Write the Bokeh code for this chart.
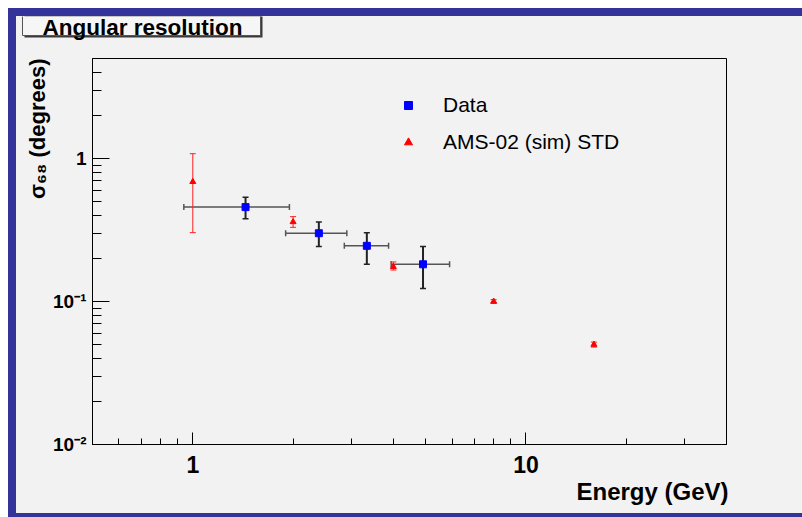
from bokeh.plotting import figure
from bokeh.models import (ColumnDataSource, Whisker, TeeHead, Legend, LegendItem, FixedTicker,
                          Title)
from bokeh.core.properties import value
from bokeh.layouts import column
from bokeh.embed import file_html
from bokeh.resources import INLINE

# ---- data ----
data_energy = [1.44, 2.39, 3.33, 4.91]
data_energy_lo = [0.94, 1.90, 2.85, 3.94]
data_energy_hi = [1.95, 2.90, 3.87, 5.90]
data_sigma = [0.457, 0.300, 0.245, 0.182]
data_sigma_lo = [0.379, 0.242, 0.182, 0.123]
data_sigma_hi = [0.535, 0.360, 0.303, 0.242]

sim_energy = [1.0, 2.0, 4.0, 8.0, 16.0]
sim_sigma = [0.687, 0.360, 0.175, 0.100, 0.050]
sim_sigma_lo = [0.303, 0.330, 0.166, 0.097, 0.048]
sim_sigma_hi = [1.08, 0.392, 0.189, 0.103, 0.052]

x_ticks = [1, 10]
x_tick_labels = ["1", "10"]
y_ticks = [0.01, 0.1, 1]
y_tick_labels = ["10\u207b\u00b2", "10\u207b\u00b9", "1"]

title_text = "Angular resolution"
x_title = "Energy (GeV)"
y_title = "\u03c3\u2086\u2088 (degrees)"
series_names = ["Data", "AMS-02 (sim) STD"]

X_MIN, X_MAX = 0.5, 40
Y_MIN, Y_MAX = 0.01, 5

BG = "#f2f2f2"
FONT = "Liberation Sans"
W = 786
TITLE_H = 42

# ---------- title strip (ROOT-style title box) ----------
tp = figure(width=W, height=TITLE_H, x_range=(0, W), y_range=(0, TITLE_H),
            output_backend="svg", toolbar_location=None,
            x_axis_location=None, y_axis_location=None,
            min_border=0, min_border_left=0, min_border_right=0,
            min_border_top=0, min_border_bottom=0)
tp.background_fill_color = BG
tp.border_fill_color = BG
tp.outline_line_color = None
tp.grid.visible = False
# shadow, then box
tp.quad(left=[8], right=[246], bottom=[21], top=[TITLE_H + 5], fill_color="#3a3a3a",
        line_color=None)
tp.quad(left=[6], right=[244], bottom=[23], top=[TITLE_H + 5], fill_color="#f6f6f6",
        line_color="#555555", line_width=1)
tp.text(x=[26], y=[31], text=[title_text], text_font=value(FONT), text_font_style="bold",
        text_font_size="22.5px", text_color="black", text_baseline="alphabetic",
        text_align="left")

# ---------- main plot ----------
p = figure(width=W, height=497 - TITLE_H, x_axis_type="log", y_axis_type="log",
           x_range=(X_MIN, X_MAX), y_range=(Y_MIN, Y_MAX),
           output_backend="svg", toolbar_location=None,
           min_border_left=76, min_border_right=76, min_border_top=0, min_border_bottom=69)
p.background_fill_color = BG
p.border_fill_color = BG
p.outline_line_color = "black"
p.outline_line_width = 1
p.grid.visible = False

# keep the title strip's frame independent of the main frame
for fig in (tp, p):
    try:
        fig.frame_align = False
    except Exception:
        pass

x_minor = [m * 10.0 ** e for e in (-1, 0, 1) for m in range(2, 10)]
y_minor = [m * 10.0 ** e for e in (-3, -2, -1, 0) for m in range(2, 10)]
xa = p.xaxis[0]
ya = p.yaxis[0]
xa.ticker = FixedTicker(ticks=x_ticks, minor_ticks=x_minor)
ya.ticker = FixedTicker(ticks=y_ticks, minor_ticks=y_minor)
xa.major_label_overrides = dict(zip(x_ticks, x_tick_labels))
ya.major_label_overrides = dict(zip(y_ticks, y_tick_labels))
for ax, maj, mnr, fs in ((xa, 12, 6, "23px"), (ya, 17, 9, "19px")):
    ax.major_tick_in = maj
    ax.major_tick_out = 0
    ax.minor_tick_in = mnr
    ax.minor_tick_out = 0
    ax.axis_line_color = "black"
    ax.major_tick_line_color = "black"
    ax.minor_tick_line_color = "black"
    ax.major_label_text_font = FONT
    ax.major_label_text_font_style = "bold"
    ax.major_label_text_font_size = fs
    ax.major_label_text_color = "black"
xa.major_label_standoff = 11
ya.major_label_standoff = 6

# axis titles, ROOT style (aligned to the far end of each axis)
p.add_layout(Title(text=x_title, align="right", offset=-2, standoff=0,
                   text_font=FONT, text_font_style="bold", text_font_size="24px",
                   text_color="black"), "below")
p.add_layout(Title(text=y_title, align="right", offset=0, standoff=2,
                   text_font=FONT, text_font_style="bold", text_font_size="22px",
                   text_color="black"), "left")

dsrc = ColumnDataSource(dict(x=data_energy, xlo=data_energy_lo, xhi=data_energy_hi,
                             y=data_sigma, ylo=data_sigma_lo, yhi=data_sigma_hi))
ssrc = ColumnDataSource(dict(x=sim_energy, y=sim_sigma, ylo=sim_sigma_lo, yhi=sim_sigma_hi))

p.add_layout(Whisker(source=dsrc, base="y", lower="xlo", upper="xhi", dimension="width",
                     line_color="#555555", line_width=1.5,
                     lower_head=TeeHead(size=6, line_color="#555555", line_width=1.5),
                     upper_head=TeeHead(size=6, line_color="#555555", line_width=1.5)))
p.add_layout(Whisker(source=dsrc, base="x", lower="ylo", upper="yhi", dimension="height",
                     line_color="#222222", line_width=2,
                     lower_head=TeeHead(size=6, line_color="#222222", line_width=1.5),
                     upper_head=TeeHead(size=6, line_color="#222222", line_width=1.5)))
p.add_layout(Whisker(source=ssrc, base="x", lower="ylo", upper="yhi", dimension="height",
                     line_color="#ff2020", line_width=1,
                     lower_head=TeeHead(size=6, line_color="#ff2020", line_width=1),
                     upper_head=TeeHead(size=6, line_color="#ff2020", line_width=1)))

r_data = p.scatter("x", "y", source=dsrc, marker="square", size=7,
                   fill_color="#0000ff", line_color="#0000ff")
r_sim = p.scatter("x", "y", source=ssrc, marker="triangle", size=6,
                  fill_color="#ff0000", line_color="#ff0000")

legend = Legend(items=[LegendItem(label=series_names[0], renderers=[r_data]),
                       LegendItem(label=series_names[1], renderers=[r_sim])],
                location=(306, 290), orientation="vertical")
legend.border_line_alpha = 0
legend.background_fill_alpha = 0
legend.padding = 0
legend.margin = 0
legend.glyph_width = 20
legend.glyph_height = 20
legend.label_height = 20
legend.spacing = 13
legend.label_standoff = 25
legend.label_text_font = FONT
legend.label_text_font_size = "21px"
legend.label_text_color = "black"
p.add_layout(legend, "center")

layout = column(tp, p, spacing=0,
                styles={"margin-left": "8px", "margin-top": "8px",
                        "border-left": "8px solid #333399",
                        "border-top": "8px solid #333399",
                        "border-bottom": "8px solid #333399",
                        "background-color": BG})

open("out.html", "w").write(file_html(layout, INLINE))
